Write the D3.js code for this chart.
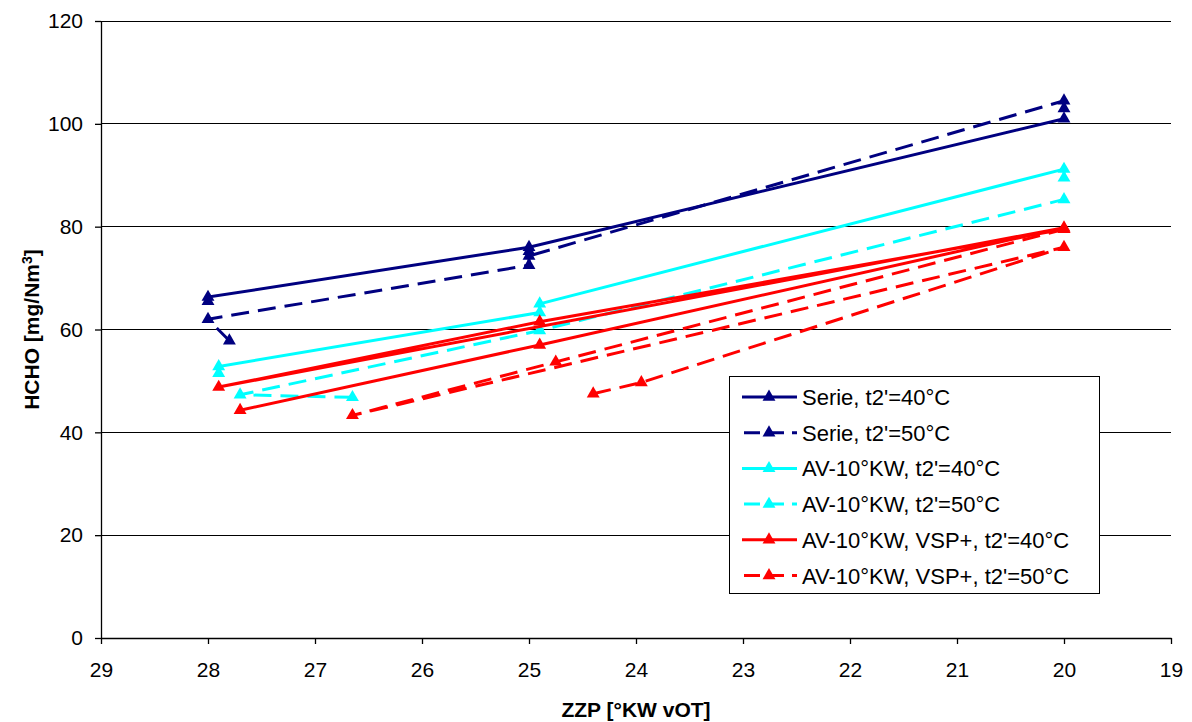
<!DOCTYPE html>
<html>
<head>
<meta charset="utf-8">
<script src="https://cdn.jsdelivr.net/npm/d3@7"></script>
<style>
  html, body { margin: 0; padding: 0; background: #fff; }
  svg { display: block; font-family: "Liberation Sans", Arial, sans-serif; }
</style>
</head>
<body>
<svg id="chart" width="1192" height="722"></svg>
<script>
// Tick values
const xTicks = [29, 28, 27, 26, 25, 24, 23, 22, 21, 20, 19];
const yTicks = [0, 20, 40, 60, 80, 100, 120];

// Series names
const seriesNames = [
  "Serie, t2'=40°C",
  "Serie, t2'=50°C",
  "AV-10°KW, t2'=40°C",
  "AV-10°KW, t2'=50°C",
  "AV-10°KW, VSP+, t2'=40°C",
  "AV-10°KW, VSP+, t2'=50°C"
];

// Measured points, in recorded order: ZZP [°KW vOT] and HCHO [mg/Nm3]
const serieX40 = [28, 28, 25, 20];
const serieY40 = [65.5, 66.3, 76.0, 101.0];
const serieX50 = [27.8, 28, 25, 25, 25, 20, 20];
const serieY50 = [57.8, 62.0, 72.5, 75.2, 74.3, 104.5, 103.0];
const avX40 = [27.9, 27.9, 24.9, 24.9, 20, 20];
const avY40 = [51.5, 52.8, 63.3, 65.0, 91.2, 89.5];
const avX50 = [26.65, 27.7, 24.9, 20];
const avY50 = [46.8, 47.3, 59.8, 85.3];
const vspX40 = [27.7, 24.9, 20, 27.9, 24.9, 20];
const vspY40 = [44.3, 57.0, 79.8, 48.8, 61.5, 79.5];
const vspX50 = [24.4, 23.95, 20, 26.65, 24.75, 20];
const vspY50 = [47.5, 49.7, 76.0, 43.3, 53.7, 79.5];

const seriesX = [serieX40, serieX50, avX40, avX50, vspX40, vspX50];
const seriesY = [serieY40, serieY50, avY40, avY50, vspY40, vspY50];
const seriesColor = ["#000080", "#000080", "#00FFFF", "#00FFFF", "#FF0000", "#FF0000"];
const seriesDashed = [false, true, false, true, false, true];

const svg = d3.select("#chart");
const plotLeft = 101, plotRight = 1171, plotTop = 21, plotBottom = 638;

const x = d3.scaleLinear().domain([29, 19]).range([plotLeft, plotRight]);
const y = d3.scaleLinear().domain([0, 120]).range([plotBottom, plotTop]);

// Horizontal gridlines
svg.append("g")
  .selectAll("line")
  .data(yTicks.filter(v => v > 0))
  .join("line")
  .attr("x1", plotLeft).attr("x2", plotRight)
  .attr("y1", d => y(d)).attr("y2", d => y(d))
  .attr("stroke", "#000").attr("stroke-width", 1)
  .attr("shape-rendering", "crispEdges");

// Axes
const xAxis = svg.append("g")
  .attr("transform", `translate(0,${plotBottom})`)
  .call(d3.axisBottom(x).tickValues(xTicks).tickFormat(d3.format("d")).tickSizeOuter(0).tickSizeInner(6).tickPadding(18));
const yAxis = svg.append("g")
  .attr("transform", `translate(${plotLeft},0)`)
  .call(d3.axisLeft(y).tickValues(yTicks).tickFormat(d3.format("d")).tickSizeOuter(0).tickSizeInner(6).tickPadding(12));

[xAxis, yAxis].forEach(g => {
  g.select(".domain").attr("stroke", "#000").attr("stroke-width", 1.3);
  g.selectAll(".tick line").attr("stroke", "#000").attr("stroke-width", 1.3);
  g.selectAll(".tick text")
    .attr("fill", "#000")
    .style("font-size", "21px")
    .style("font-family", "'Liberation Sans', Arial, sans-serif");
});

// Axis titles
svg.append("text")
  .attr("x", 636).attr("y", 717)
  .attr("text-anchor", "middle")
  .style("font-size", "21px").style("font-weight", "bold")
  .text("ZZP [°KW vOT]");

const yTitle = svg.append("text")
  .attr("transform", `translate(39,${y(60)}) rotate(-90)`)
  .attr("text-anchor", "middle")
  .style("font-size", "21px").style("font-weight", "bold");
yTitle.append("tspan").text("HCHO [mg/Nm");
yTitle.append("tspan").attr("dy", "-0.5em").style("font-size", "14px").text("3");
yTitle.append("tspan").attr("dy", "0.35em").text("]");

// Series lines and markers
const line = d3.line().x(d => x(d[0])).y(d => y(d[1]));
const tri = d3.symbol().type(d3.symbolTriangle).size(72);
const dash = "18,9";

seriesX.forEach((xs, i) => {
  const pts = xs.map((v, j) => [v, seriesY[i][j]]);
  const g = svg.append("g");
  g.append("path")
    .attr("d", line(pts))
    .attr("fill", "none")
    .attr("stroke", seriesColor[i])
    .attr("stroke-width", 3)
    .attr("stroke-dasharray", seriesDashed[i] ? dash : null);
  g.selectAll("path.m")
    .data(pts)
    .join("path")
    .attr("class", "m")
    .attr("d", tri)
    .attr("transform", d => `translate(${x(d[0])},${y(d[1])})`)
    .attr("fill", seriesColor[i]);
});

// Legend
const legend = svg.append("g");
legend.append("rect")
  .attr("x", 729.5).attr("y", 376.5).attr("width", 370).attr("height", 217)
  .attr("fill", "#fff").attr("stroke", "#000").attr("stroke-width", 1);

seriesNames.forEach((name, i) => {
  const cy = 397 + i * 35.7;
  const row = legend.append("g");
  row.append("line")
    .attr("x1", 742).attr("x2", 797).attr("y1", cy).attr("y2", cy)
    .attr("stroke", seriesColor[i]).attr("stroke-width", 3)
    .attr("stroke-dasharray", seriesDashed[i] ? "16,8" : null)
    .attr("stroke-dashoffset", seriesDashed[i] ? -2 : null);
  row.append("path")
    .attr("d", tri)
    .attr("transform", `translate(769,${cy})`)
    .attr("fill", seriesColor[i]);
  row.append("text")
    .attr("x", 802).attr("y", cy + 8)
    .style("font-size", "22px")
    .text(name);
});
</script>
</body>
</html>
